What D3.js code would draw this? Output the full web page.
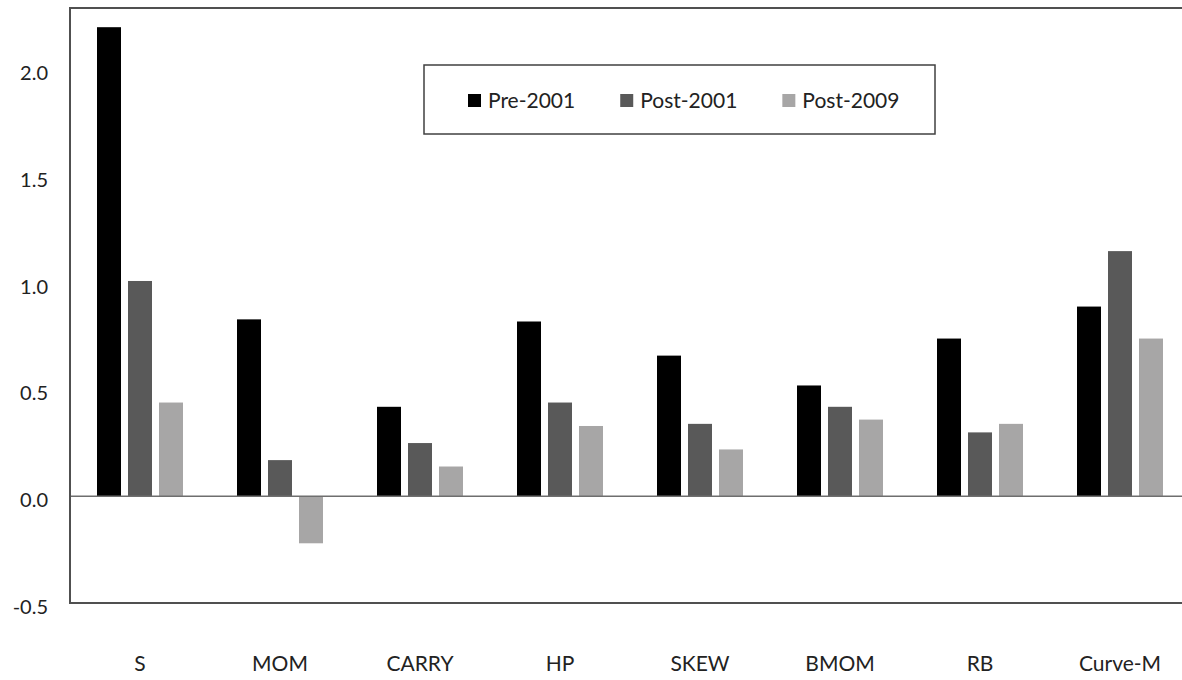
<!doctype html>
<html>
    <head>
        <title>Sharpe ratios by period</title>
        <script src="https://d3js.org/d3.v7.min.js"></script>
        <style>
            body { margin: 0; background: #fff; }
            text { font-family: Lato, "Open Sans", sans-serif; fill: #222; }
        </style>
    </head>

    <body>
        <div id="my_dataviz"></div>
        <script>
            // data
            var categories = ["S", "MOM", "CARRY", "HP", "SKEW", "BMOM", "RB", "Curve-M"];
            var series = ["Pre-2001", "Post-2001", "Post-2009"];
            var pre2001  = [2.20, 0.83, 0.42, 0.82, 0.66, 0.52, 0.74, 0.89];
            var post2001 = [1.01, 0.17, 0.25, 0.44, 0.34, 0.42, 0.30, 1.15];
            var post2009 = [0.44, -0.22, 0.14, 0.33, 0.22, 0.36, 0.34, 0.74];
            var yTicks = [-0.5, 0.0, 0.5, 1.0, 1.5, 2.0];
            var yTickLabels = ["-0.5", "0.0", "0.5", "1.0", "1.5", "2.0"];

            var values = [pre2001, post2001, post2009];
            var colors = ["#000000", "#595959", "#a7a6a6"];

            // set the dimensions and margins of the graph
            var margin = {top: 8, right: 0, bottom: 77, left: 70},
                width = 1120,
                height = 680 - margin.top - margin.bottom;

            var svg = d3.select("#my_dataviz")
            .append("svg")
                .attr("width", 1182)
                .attr("height", 680)
            .append("g")
                .attr("transform", "translate(" + margin.left + "," + margin.top + ")");

            // scales
            var x0 = d3.scaleBand()
                .domain(categories)
                .range([0, width])
                .padding(0);

            var x1 = d3.scaleBand()
                .domain(series)
                .range([23.5, 116.5])
                .paddingInner(7 / 31)
                .paddingOuter(3.5 / 31);

            var y = d3.scaleLinear()
                .domain([-0.5, 2.29])
                .range([height, 0]);

            // bars
            var rows = categories.map(function(c, i) {
                return series.map(function(s, j) { return {cat: c, ser: s, idx: j, value: values[j][i]}; });
            });

            svg.selectAll("g.group")
                .data(rows)
                .enter()
                .append("g")
                    .attr("class", "group")
                    .attr("transform", function(d) { return "translate(" + x0(d[0].cat) + ",0)"; })
                .selectAll("rect")
                .data(function(d) { return d; })
                .enter()
                .append("rect")
                    .attr("x", function(d) { return x1(d.ser); })
                    .attr("width", x1.bandwidth())
                    .attr("y", function(d) { return y(Math.max(0, d.value)); })
                    .attr("height", function(d) { return Math.abs(y(d.value) - y(0)); })
                    .attr("fill", function(d) { return colors[d.idx]; });

            // zero line
            svg.append("line")
                .attr("x1", 0).attr("x2", width)
                .attr("y1", y(0)).attr("y2", y(0))
                .attr("stroke", "#6e6e6e")
                .attr("stroke-width", 1.5);

            // frame: left, top, bottom
            svg.append("path")
                .attr("d", "M" + width + "," + 0 + "H0V" + height + "H" + width)
                .attr("fill", "none")
                .attr("stroke", "#505050")
                .attr("stroke-width", 2);

            // Y axis
            var yAxis = svg.append("g")
                .call(d3.axisLeft(y)
                    .tickValues(yTicks)
                    .tickSize(0)
                    .tickPadding(22)
                    .tickFormat(function(d, i) { return yTickLabels[i]; }));
            yAxis.select(".domain").remove();
            yAxis.selectAll("text")
                .attr("dy", "0.5em")
                .style("font-size", "20px")
                .style("font-family", "Lato, sans-serif")
                .attr("fill", "#222");

            // X axis labels
            var xAxis = svg.append("g")
                .attr("transform", "translate(0," + height + ")")
                .call(d3.axisBottom(x0).tickSize(0).tickPadding(53));
            xAxis.select(".domain").remove();
            xAxis.selectAll("text")
                .style("font-size", "21px")
                .style("font-family", "Lato, sans-serif")
                .attr("fill", "#222");

            // legend
            var legend = svg.append("g")
                .attr("transform", "translate(" + (424 - margin.left) + "," + (65 - margin.top) + ")");
            legend.append("rect")
                .attr("width", 511)
                .attr("height", 69)
                .attr("fill", "#fff")
                .attr("stroke", "#404040")
                .attr("stroke-width", 1.5);

            var lx = 44;
            series.forEach(function(s, j) {
                legend.append("rect")
                    .attr("x", lx)
                    .attr("y", 29)
                    .attr("width", 13)
                    .attr("height", 13)
                    .attr("fill", colors[j]);
                var t = legend.append("text")
                    .attr("x", lx + 20)
                    .attr("y", 43)
                    .style("font-size", "21px")
                    .text(s);
                lx += 20 + t.node().getComputedTextLength() + 45;
            });
        </script>
    </body>
</html>
